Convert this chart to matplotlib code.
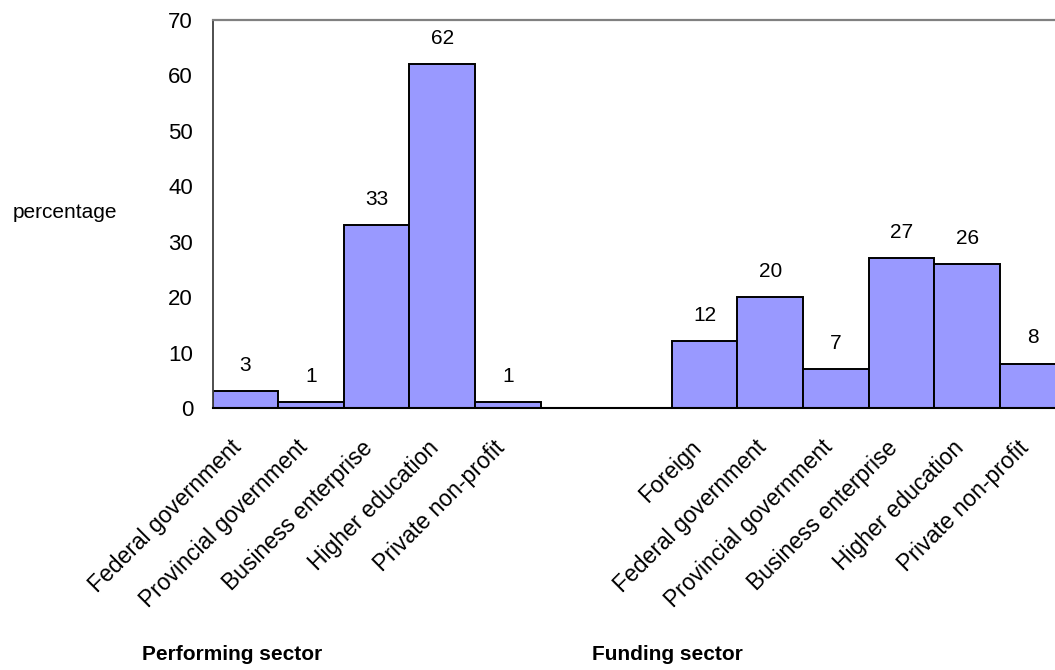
import matplotlib.pyplot as plt
import matplotlib.transforms as mtransforms

plt.rcParams['font.family'] = ['Liberation Sans', 'DejaVu Sans']

# Datos
performing = ['Federal government', 'Provincial government', 'Business enterprise',
              'Higher education', 'Private non-profit']
performing_vals = [3, 1, 33, 62, 1]
funding = ['Foreign', 'Federal government', 'Provincial government',
           'Business enterprise', 'Higher education', 'Private non-profit']
funding_vals = [12, 20, 7, 27, 26, 8]

labels = performing + funding
values = performing_vals + funding_vals
# dos huecos vacios entre los grupos
pos = list(range(len(performing))) + [len(performing) + 2 + i for i in range(len(funding))]

fig = plt.figure(figsize=(10.55, 6.7), dpi=100)
ax = fig.add_axes([212.5 / 1055, 1 - 408 / 670, 1 - 212.5 / 1055, 388 / 670])

ax.bar(pos, values, width=1.0, color='#9999ff', edgecolor='black', linewidth=1.4)
for p, v in zip(pos, values):
    ax.annotate(str(v), (p, v), xytext=(0, 18.5), textcoords='offset points',
                ha='center', va='center', fontsize=15)

ax.set_xlim(-0.5, 12.34)
ax.set_ylim(0, 70)
ax.set_yticks(range(0, 71, 10))
ax.tick_params(axis='y', length=0, labelsize=16, pad=14)
ax.set_xticks(pos)
ax.set_xticklabels(labels, rotation=45, ha='right', va='center',
                   rotation_mode='anchor', fontsize=16.5)
ax.tick_params(axis='x', length=0, pad=26)
shift = mtransforms.ScaledTranslation(-7 / 100, 0, fig.dpi_scale_trans)
for lab in ax.get_xticklabels():
    lab.set_transform(lab.get_transform() + shift)

ax.spines['right'].set_visible(False)
ax.spines['top'].set_color('#808080')
ax.spines['top'].set_linewidth(1.6)
ax.spines['left'].set_color('#404040')
ax.spines['left'].set_linewidth(1.3)
ax.spines['bottom'].set_linewidth(1.5)

fig.text(13 / 1055, 1 - 213 / 670, 'percentage', fontsize=15, va='center', ha='left')
fig.text(142 / 1055, 1 - 655 / 670, 'Performing sector', fontsize=15, fontweight='bold',
         ha='left', va='center')
fig.text(592 / 1055, 1 - 655 / 670, 'Funding sector', fontsize=15, fontweight='bold',
         ha='left', va='center')

fig.savefig('out.png', dpi=100)
